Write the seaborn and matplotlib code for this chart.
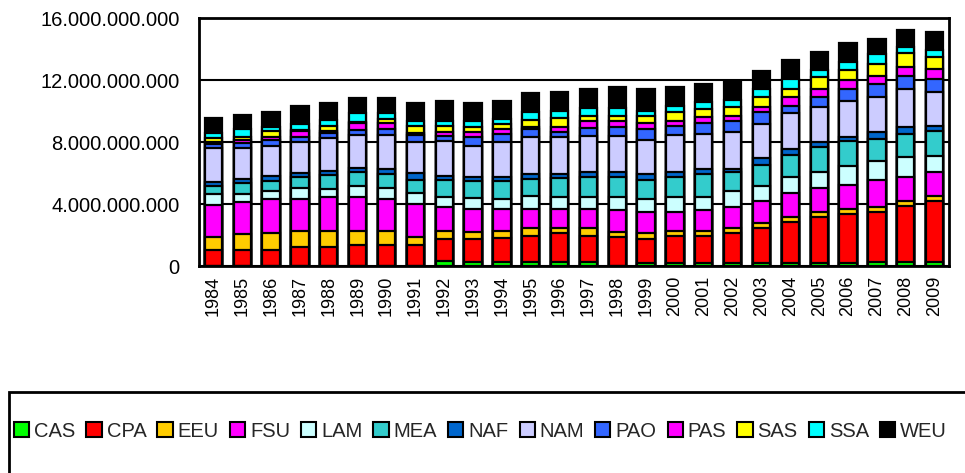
import matplotlib
matplotlib.use("Agg")
import matplotlib.pyplot as plt
import matplotlib.patches as mpatches
from matplotlib.ticker import FuncFormatter
import numpy as np
import pandas as pd
import seaborn as sns

years = ["1984", "1985", "1986", "1987", "1988", "1989", "1990", "1991", "1992",
         "1993", "1994", "1995", "1996", "1997", "1998", "1999", "2000", "2001",
         "2002", "2003", "2004", "2005", "2006", "2007", "2008", "2009"]

# valores en miles de millones
CAS = [0, 0, 0, 0, 0, 0, 0, 0, 0.30, 0.26, 0.26, 0.26, 0.26, 0.26, 0, 0.22, 0.22,
       0.22, 0.22, 0.22, 0.22, 0.22, 0.22, 0.24, 0.24, 0.24]
CPA = [1.03, 1.03, 1.03, 1.20, 1.20, 1.38, 1.38, 1.38, 1.42, 1.46, 1.52, 1.65, 1.85,
       1.65, 1.85, 1.52, 1.69, 1.69, 1.89, 2.23, 2.60, 2.96, 3.13, 3.22, 3.65, 3.98]
EEU = [0.86, 1.03, 1.08, 1.04, 1.08, 0.86, 0.86, 0.51, 0.56, 0.45, 0.50, 0.52, 0.32,
       0.52, 0.32, 0.39, 0.37, 0.33, 0.34, 0.30, 0.32, 0.33, 0.33, 0.32, 0.28, 0.30]
FSU = [2.05, 2.05, 2.21, 2.08, 2.19, 2.24, 2.08, 2.11, 1.55, 1.51, 1.38, 1.25, 1.25,
       1.25, 1.44, 1.33, 1.18, 1.37, 1.38, 1.42, 1.55, 1.52, 1.57, 1.77, 1.59, 1.52]
LAM = [0.71, 0.54, 0.54, 0.71, 0.50, 0.71, 0.71, 0.69, 0.64, 0.69, 0.66, 0.86, 0.79,
       0.79, 0.86, 0.86, 1.01, 0.86, 1.03, 1.01, 1.07, 1.01, 1.22, 1.25, 1.25, 1.08]
MEA = [0.52, 0.69, 0.65, 0.69, 0.92, 0.86, 0.90, 0.86, 1.08, 1.09, 1.14, 1.07, 1.21,
       1.29, 1.29, 1.23, 1.29, 1.47, 1.18, 1.36, 1.42, 1.62, 1.57, 1.39, 1.51, 1.57]
NAF = [0.28, 0.28, 0.27, 0.26, 0.22, 0.28, 0.32, 0.43, 0.28, 0.26, 0.26, 0.33, 0.26,
       0.33, 0.33, 0.39, 0.33, 0.32, 0.22, 0.43, 0.37, 0.32, 0.30, 0.43, 0.47, 0.36]
NAM = [2.15, 1.98, 1.98, 2.00, 2.13, 2.13, 2.19, 2.00, 2.21, 2.04, 2.26, 2.36, 2.36,
       2.28, 2.28, 2.19, 2.38, 2.26, 2.36, 2.19, 2.30, 2.26, 2.33, 2.30, 2.43, 2.20]
PAO = [0.28, 0.35, 0.37, 0.37, 0.32, 0.34, 0.37, 0.49, 0.33, 0.54, 0.54, 0.54, 0.37,
       0.53, 0.62, 0.69, 0.58, 0.68, 0.71, 0.75, 0.49, 0.68, 0.75, 0.82, 0.86, 0.81]
PAS = [0.10, 0.15, 0.21, 0.35, 0.15, 0.41, 0.39, 0.14, 0.30, 0.37, 0.32, 0.10, 0.32,
       0.48, 0.39, 0.38, 0.33, 0.39, 0.37, 0.33, 0.58, 0.50, 0.58, 0.54, 0.54, 0.65]
SAS = [0.26, 0.21, 0.35, 0.10, 0.30, 0.10, 0.28, 0.45, 0.38, 0.32, 0.32, 0.49, 0.56,
       0.32, 0.32, 0.50, 0.53, 0.54, 0.58, 0.64, 0.50, 0.75, 0.65, 0.75, 0.90, 0.80]
SSA = [0.35, 0.50, 0.30, 0.37, 0.41, 0.55, 0.37, 0.30, 0.33, 0.34, 0.32, 0.49, 0.47,
       0.49, 0.49, 0.32, 0.43, 0.43, 0.43, 0.54, 0.64, 0.48, 0.49, 0.65, 0.43, 0.43]
WEU = [0.98, 0.96, 0.95, 1.15, 1.08, 0.99, 0.99, 1.16, 1.24, 1.16, 1.14, 1.21, 1.21,
       1.21, 1.39, 1.38, 1.24, 1.19, 1.21, 1.19, 1.24, 1.17, 1.22, 0.97, 1.10, 1.14]

regions = ["CAS", "CPA", "EEU", "FSU", "LAM", "MEA", "NAF", "NAM", "PAO", "PAS", "SAS", "SSA", "WEU"]
colors = ["#00FF00", "#FF0000", "#FFCC00", "#FF00FF", "#CCFFFF", "#33CCCC", "#0066CC",
          "#CCCCFF", "#3366FF", "#FF00FF", "#FFFF00", "#00FFFF", "#000000"]

df = pd.DataFrame({"CAS": CAS, "CPA": CPA, "EEU": EEU, "FSU": FSU, "LAM": LAM, "MEA": MEA,
                   "NAF": NAF, "NAM": NAM, "PAO": PAO, "PAS": PAS, "SAS": SAS, "SSA": SSA,
                   "WEU": WEU}, index=years)
cum = df[regions].cumsum(axis=1) * 1e9
cum["year"] = years

sns.set_style("white")
plt.rcParams["font.family"] = ["Liberation Sans", "DejaVu Sans"]

fig = plt.figure(figsize=(9.65, 4.73), dpi=100)
ax = fig.add_axes([199 / 965, 1 - 266 / 473, 750 / 965, 248 / 473])

# barras apiladas: se dibuja el acumulado de arriba hacia abajo
for reg, col in reversed(list(zip(regions, colors))):
    sns.barplot(data=cum, x="year", y=reg, color=col, saturation=1, width=0.6,
                edgecolor="black", linewidth=1.6, errorbar=None, ax=ax, zorder=3)

ax.set_xlim(-0.5, len(years) - 0.5)
ax.set_ylim(0, 16e9)
ax.set_yticks(np.arange(0, 16e9 + 1, 4e9))
ax.yaxis.set_major_formatter(FuncFormatter(lambda v, p: f"{int(round(v)):,}".replace(",", ".")))
ax.set_xlabel("")
ax.set_ylabel("")
ax.set_xticks(range(len(years)))
ax.set_xticklabels(years, rotation=90, fontsize=13)
ax.set_xticks(np.arange(-0.5, len(years)), minor=True)
ax.tick_params(axis="x", which="major", length=0, pad=7)
ax.tick_params(axis="x", which="minor", length=5, width=1.5, direction="out", color="black")
ax.tick_params(axis="y", length=7, width=1.5, direction="out", color="black", pad=7, labelsize=14.5)
ax.tick_params(colors="black")
ax.grid(axis="y", color="black", linewidth=1.5, zorder=0)
ax.set_axisbelow(True)
for s in ax.spines.values():
    s.set_visible(True)
    s.set_color("black")
    s.set_linewidth(2)

handles = [mpatches.Patch(facecolor=c, edgecolor="black", linewidth=1.5) for c in colors]
fig.legend(handles, regions, ncol=13, loc="center left", bbox_to_anchor=(14 / 965, 1 - 431 / 473),
           frameon=False, fontsize=14.5, handlelength=0.75, handleheight=0.75, handletextpad=0.25,
           columnspacing=0.55, borderaxespad=0, borderpad=0)
fig.add_artist(mpatches.Rectangle((9 / 965, -0.1), 1.1, 1.1 - 392 / 473, transform=fig.transFigure,
                                  fill=False, edgecolor="black", linewidth=2))

plt.savefig("out.png", dpi=100)
